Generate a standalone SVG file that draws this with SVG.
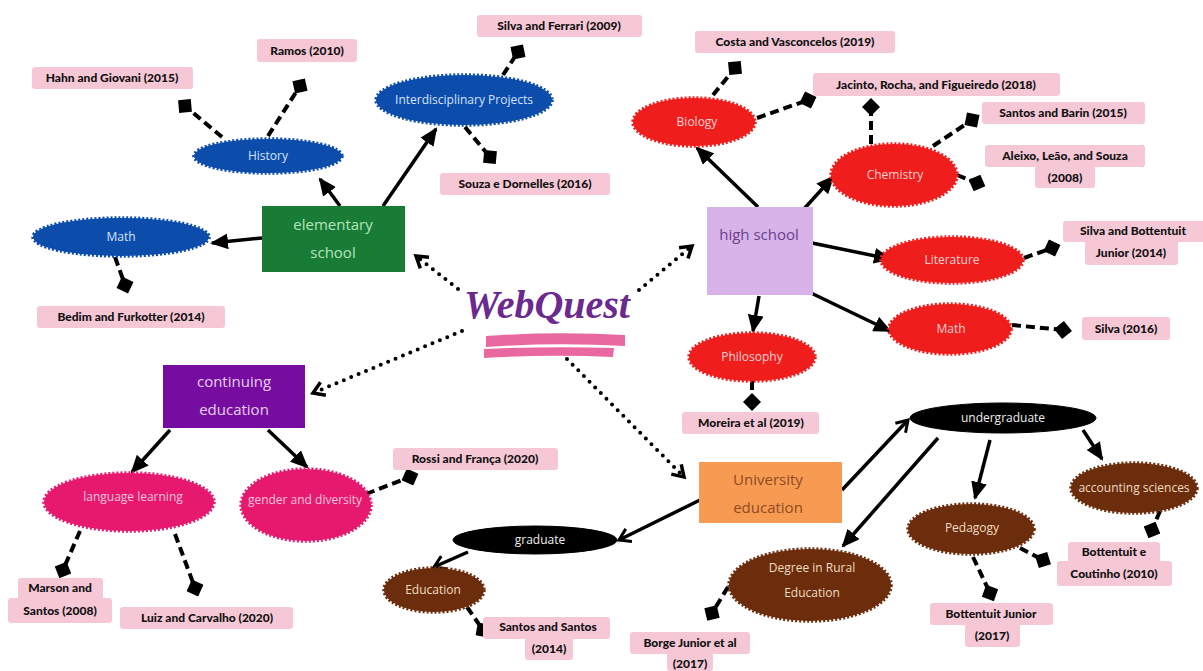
<svg xmlns="http://www.w3.org/2000/svg" width="1203" height="671" viewBox="0 0 1203 671">
<style>
.lbl rect{fill:#f6c8d6}
.lbl text{font-family:Lato,"Open Sans",sans-serif;font-weight:900;font-size:12px;fill:#111;text-anchor:middle}
.nt{font-family:"Open Sans",Lato,sans-serif;font-size:12px;text-anchor:middle}
.bt{font-family:"Open Sans",Lato,sans-serif;font-size:15px;text-anchor:middle}
.blue{fill:#0c4dab;stroke:#0c4dab}
.red{fill:#f01d1d;stroke:#f01d1d}
.pink{fill:#e6196f;stroke:#e6196f}
.brown{fill:#6b2d0b;stroke:#6b2d0b}
.blk{fill:#000;stroke:#000}
.zz{stroke-width:3.5;stroke-dasharray:2 2}
.sol{stroke:#000;stroke-width:3.5;fill:none}
.dash{stroke:#000;stroke-width:4;fill:none;stroke-dasharray:9 5;marker-end:url(#dia)}
.dot{stroke:#000;stroke-width:4;fill:none;stroke-linecap:round;stroke-dasharray:0 8;marker-end:url(#chev)}
.fa{marker-end:url(#tri)}
.oa{marker-end:url(#open)}
</style>
<defs>
<marker id="tri" markerUnits="userSpaceOnUse" markerWidth="18" markerHeight="16" viewBox="0 0 18 16" refX="16" refY="8" orient="auto"><path d="M0,0 L18,8 L0,16 z" fill="#000"/></marker>
<marker id="open" markerUnits="userSpaceOnUse" markerWidth="16" markerHeight="18" viewBox="0 0 16 18" refX="13" refY="9" orient="auto"><path d="M2,2 L13,9 L2,16" fill="none" stroke="#000" stroke-width="3"/></marker>
<marker id="chev" markerUnits="userSpaceOnUse" markerWidth="16" markerHeight="18" viewBox="0 0 16 18" refX="13" refY="9" orient="auto"><path d="M2,2 L13,9 L2,16" fill="none" stroke="#000" stroke-width="3.5"/></marker>
<marker id="dia" markerUnits="userSpaceOnUse" markerWidth="18" markerHeight="18" viewBox="0 0 18 18" refX="9" refY="9" orient="auto"><path d="M0,9 L9,0 L18,9 L9,18 z" fill="#000"/></marker>
</defs>
<rect width="1203" height="671" fill="#fff"/>

<g id="connectors">
<line class="sol fa" x1="340" y1="206" x2="320" y2="179"/>
<line class="sol fa" x1="262" y1="238" x2="212" y2="243"/>
<line class="sol fa" x1="383" y1="206" x2="436" y2="129"/>
<line class="dash" x1="222" y1="137" x2="185" y2="106"/>
<line class="dash" x1="268" y1="136" x2="300" y2="86"/>
<line class="dash" x1="115" y1="257" x2="125" y2="285"/>
<line class="dash" x1="503" y1="75" x2="518" y2="52"/>
<line class="dash" x1="465" y1="127" x2="490" y2="157"/>

<line class="sol fa" x1="758" y1="207" x2="697" y2="148"/>
<line class="sol fa" x1="803" y1="210" x2="833" y2="177"/>
<line class="sol fa" x1="812" y1="243" x2="890" y2="259"/>
<line class="sol fa" x1="809" y1="292" x2="890" y2="331"/>
<line class="sol fa" x1="759" y1="296" x2="753" y2="331"/>
<line class="dash" x1="713" y1="95" x2="735" y2="68"/>
<line class="dash" x1="757" y1="118" x2="808" y2="100"/>
<line class="dash" x1="871" y1="144" x2="871" y2="107"/>
<line class="dash" x1="933" y1="146" x2="972" y2="120"/>
<line class="dash" x1="957" y1="175" x2="977" y2="183"/>
<line class="dash" x1="1024" y1="258" x2="1052" y2="248"/>
<line class="dash" x1="1012" y1="325" x2="1063" y2="330"/>
<line class="dash" x1="752" y1="381" x2="752" y2="402"/>

<line class="sol fa" x1="170" y1="430" x2="132" y2="472"/>
<line class="sol fa" x1="268" y1="430" x2="307" y2="467"/>
<line class="dash" x1="80" y1="531" x2="63" y2="570"/>
<line class="dash" x1="175" y1="534" x2="195" y2="588"/>
<line class="dash" x1="366" y1="494" x2="410" y2="477"/>

<line class="sol oa" x1="700" y1="500" x2="619" y2="540"/>
<line class="sol oa" x1="842" y1="490" x2="908" y2="420"/>
<line class="sol fa" x1="938" y1="438" x2="843" y2="546"/>
<line class="sol fa" x1="990" y1="440" x2="975" y2="498"/>
<line class="sol fa" x1="1083" y1="430" x2="1102" y2="459"/>
<line class="sol oa" x1="468" y1="552" x2="434" y2="567"/>
<line class="dash" x1="467" y1="607" x2="483" y2="630"/>
<line class="dash" x1="728" y1="587" x2="712" y2="613"/>
<line class="dash" x1="1020" y1="548" x2="1043" y2="560"/>
<line class="dash" x1="973" y1="557" x2="990" y2="593"/>
<line class="dash" x1="1160" y1="511" x2="1152" y2="530"/>

<line class="dot" x1="458" y1="289" x2="416" y2="256"/>
<line class="dot" x1="639" y1="290" x2="692" y2="246"/>
<line class="dot" x1="462" y1="331" x2="313" y2="393"/>
<line class="dot" x1="567" y1="359" x2="684" y2="477"/>
</g>

<g id="webquest">
<path d="M486,336 Q555,331 625,335 L625,346 Q555,342 486,347 z" fill="#ea68a0"/>
<path d="M484,349 Q550,346 614,348 L613,357 Q550,354 484,358 z" fill="#ea68a0"/>
<text x="547" y="318" font-family="'Liberation Serif',serif" font-style="italic" font-weight="700" font-size="40" fill="#6b2a90" text-anchor="middle">WebQuest</text>
</g>

<g id="elementary-school"><rect x="262" y="206" width="143" height="66" fill="#197c36"/><text class="bt" x="333" y="230" fill="#b5e3bd">elementary</text><text class="bt" x="333" y="258" fill="#b5e3bd">school</text></g>
<g id="history"><ellipse class="blue zz" cx="268" cy="156" rx="74" ry="17"/><text class="nt" x="268" y="160" fill="#d6e2fb">History</text></g>
<g id="math-es"><ellipse class="blue zz" cx="121" cy="237" rx="88" ry="19"/><text class="nt" x="121" y="241" fill="#d6e2fb">Math</text></g>
<g id="interdisciplinary"><ellipse class="blue zz" cx="464" cy="100" rx="88" ry="25"/><text class="nt" x="464" y="104" fill="#d6e2fb">Interdisciplinary Projects</text></g>

<g id="high-school"><rect x="707" y="207" width="106" height="88" fill="#d7b3ea"/><text class="bt" x="759" y="240" fill="#6a3f8a">high school</text></g>
<g id="biology"><ellipse class="red zz" cx="694" cy="122" rx="61" ry="24"/><text class="nt" x="697" y="126" fill="#ffd0d0">Biology</text></g>
<g id="chemistry"><ellipse class="red zz" cx="894" cy="175" rx="63" ry="31"/><text class="nt" x="895" y="179" fill="#ffd0d0">Chemistry</text></g>
<g id="literature"><ellipse class="red zz" cx="952" cy="260" rx="71" ry="23"/><text class="nt" x="952" y="264" fill="#ffd0d0">Literature</text></g>
<g id="math-hs"><ellipse class="red zz" cx="950" cy="329" rx="61" ry="25"/><text class="nt" x="951" y="333" fill="#ffd0d0">Math</text></g>
<g id="philosophy"><ellipse class="red zz" cx="752" cy="357" rx="63" ry="24"/><text class="nt" x="752" y="361" fill="#ffd0d0">Philosophy</text></g>

<g id="continuing-education"><rect x="163" y="365" width="142" height="63" fill="#760da0"/><text class="bt" x="234" y="387" fill="#e6d0f2">continuing</text><text class="bt" x="234" y="415" fill="#e6d0f2">education</text></g>
<g id="language-learning"><ellipse class="pink zz" cx="129" cy="502" rx="85" ry="29"/><text class="nt" x="133" y="501" fill="#f8c4da">language learning</text></g>
<g id="gender-diversity"><ellipse class="pink zz" cx="306" cy="505" rx="65" ry="36"/><text class="nt" x="305" y="504" fill="#f8c4da">gender and diversity</text></g>

<g id="university-education"><rect x="699" y="462" width="143" height="61" fill="#f89b52"/><text class="bt" x="768" y="485" fill="#8e4a25">University</text><text class="bt" x="768" y="513" fill="#8e4a25">education</text></g>
<g id="graduate"><ellipse class="blk" cx="535" cy="540" rx="82" ry="14"/><text class="nt" x="540" y="544" fill="#eee">graduate</text></g>
<g id="education"><ellipse class="brown zz" cx="434" cy="590" rx="50" ry="22"/><text class="nt" x="433" y="594" fill="#f2dcc4">Education</text></g>
<g id="undergraduate"><ellipse class="blk" cx="1003" cy="418" rx="93" ry="15"/><text class="nt" x="1003" y="422" fill="#eee">undergraduate</text></g>
<g id="degree-rural"><ellipse class="brown zz" cx="810" cy="585" rx="81" ry="36"/><text class="nt" x="812" y="572" fill="#f2dcc4">Degree in Rural</text><text class="nt" x="812" y="597" fill="#f2dcc4">Education</text></g>
<g id="pedagogy"><ellipse class="brown zz" cx="971" cy="529" rx="63" ry="25"/><text class="nt" x="972" y="532" fill="#f2dcc4">Pedagogy</text></g>
<g id="accounting"><ellipse class="brown zz" cx="1134" cy="488" rx="63" ry="25"/><text class="nt" x="1134" y="492" fill="#f2dcc4">accounting sciences</text></g>

<g id="ref-ramos" class="lbl"><rect x="257" y="39" width="100" height="23" rx="3"/><text x="307" y="55">Ramos (2010)</text></g>
<g id="ref-hahn" class="lbl"><rect x="32" y="67" width="161" height="22" rx="3"/><text x="112" y="82">Hahn and Giovani (2015)</text></g>
<g id="ref-bedim" class="lbl"><rect x="37" y="306" width="188" height="22" rx="3"/><text x="131" y="321">Bedim and Furkotter (2014)</text></g>
<g id="ref-silva-ferrari" class="lbl"><rect x="477" y="15" width="165" height="22" rx="3"/><text x="559" y="30">Silva and Ferrari (2009)</text></g>
<g id="ref-souza" class="lbl"><rect x="440" y="173" width="170" height="22" rx="3"/><text x="525" y="188">Souza e Dornelles (2016)</text></g>
<g id="ref-costa" class="lbl"><rect x="695" y="31" width="200" height="22" rx="3"/><text x="795" y="46">Costa and Vasconcelos (2019)</text></g>
<g id="ref-jacinto" class="lbl"><rect x="813" y="73" width="247" height="23" rx="3"/><text x="936" y="89">Jacinto, Rocha, and Figueiredo (2018)</text></g>
<g id="ref-santos-barin" class="lbl"><rect x="982" y="102" width="163" height="22" rx="3"/><text x="1063" y="117">Santos and Barin (2015)</text></g>
<g id="ref-aleixo" class="lbl"><rect x="985" y="145" width="160" height="22" rx="3"/><rect x="1035" y="166" width="60" height="22" rx="3"/><text x="1065" y="160">Aleixo, Leão, and Souza</text><text x="1065" y="182">(2008)</text></g>
<g id="ref-silva-bottentuit" class="lbl"><rect x="1063" y="221" width="142" height="21" rx="3"/><rect x="1085" y="240" width="93" height="25" rx="3"/><text x="1133" y="235">Silva and Bottentuit</text><text x="1131" y="257">Junior (2014)</text></g>
<g id="ref-silva-2016" class="lbl"><rect x="1082" y="317" width="88" height="23" rx="3"/><text x="1126" y="333">Silva (2016)</text></g>
<g id="ref-moreira" class="lbl"><rect x="682" y="412" width="137" height="22" rx="3"/><text x="751" y="427">Moreira et al (2019)</text></g>
<g id="ref-rossi" class="lbl"><rect x="393" y="448" width="165" height="22" rx="3"/><text x="475" y="463">Rossi and França (2020)</text></g>
<g id="ref-marson" class="lbl"><rect x="18" y="578" width="85" height="22" rx="3"/><rect x="8" y="598" width="104" height="25" rx="3"/><text x="60" y="592">Marson and</text><text x="60" y="615">Santos (2008)</text></g>
<g id="ref-luiz" class="lbl"><rect x="120" y="607" width="173" height="22" rx="3"/><text x="207" y="622">Luiz and Carvalho (2020)</text></g>
<g id="ref-santos-santos" class="lbl"><rect x="483" y="617" width="127" height="22" rx="3"/><rect x="525" y="638" width="48" height="22" rx="3"/><text x="548" y="631">Santos and Santos</text><text x="549" y="653">(2014)</text></g>
<g id="ref-borge" class="lbl"><rect x="630" y="632" width="120" height="22" rx="3"/><rect x="667" y="653" width="46" height="18" rx="3"/><text x="690" y="647">Borge Junior et al</text><text x="690" y="668">(2017)</text></g>
<g id="ref-bott-coutinho" class="lbl"><rect x="1068" y="542" width="92" height="20" rx="3"/><rect x="1057" y="561" width="115" height="25" rx="3"/><text x="1114" y="556">Bottentuit e</text><text x="1114" y="578">Coutinho (2010)</text></g>
<g id="ref-bott-junior" class="lbl"><rect x="930" y="603" width="123" height="22" rx="3"/><rect x="965" y="624" width="55" height="23" rx="3"/><text x="991" y="618">Bottentuit Junior</text><text x="992" y="640">(2017)</text></g>
</svg>
